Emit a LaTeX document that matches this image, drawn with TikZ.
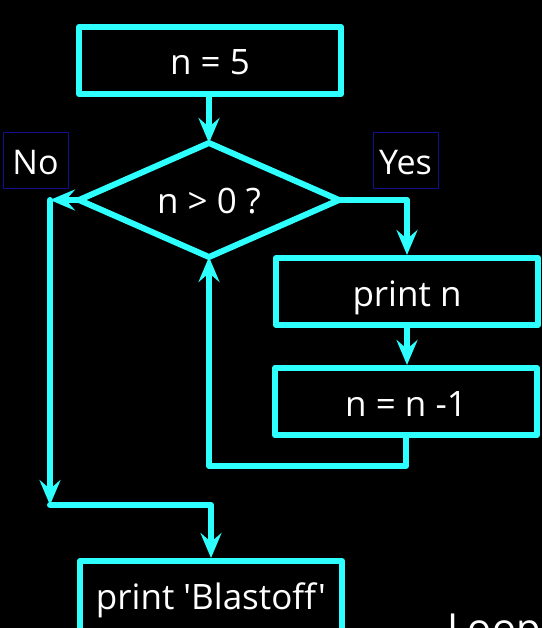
\documentclass[tikz,border=0pt]{standalone}
\usepackage{fontspec}
\newfontfamily\flowfont{Open Sans}
\usetikzlibrary{arrows.meta,shapes.geometric}
\definecolor{flowcyan}{RGB}{46,255,255}
\definecolor{labnavy}{RGB}{16,16,140}
\begin{document}
\begin{tikzpicture}[x=1pt,y=-1pt,
  flow/.style={draw=flowcyan,line width=6pt,line cap=round,line join=round},
  arr/.style={flow,-{Stealth[length=25pt,width=21pt,inset=9pt]}},
  txt/.style={text=white,font=\flowfont\fontsize{35}{42}\selectfont,text height=29pt,text depth=0pt},
  box/.style={rectangle,draw=flowcyan,line width=6pt,line join=round,minimum width=262pt,minimum height=67pt,inner sep=0pt,txt},
  dec/.style={diamond,draw=flowcyan,line width=6pt,line join=round,aspect=2.28,minimum width=260pt,minimum height=114pt,inner sep=0pt,outer sep=0pt,txt,text height=27pt},
  lab/.style={rectangle,draw=labnavy,line width=1pt,minimum width=65pt,minimum height=56pt,inner sep=0pt,text=white,font=\flowfont\fontsize{34}{40}\selectfont,text height=28pt,text depth=0pt}]
\useasboundingbox (0,0) rectangle (542,628);
\fill[black] (0,0) rectangle (542,628);

\node[box] (n5) at (210,60.5) {n = 5};
\node[dec] (d) at (209,200) {n > 0 ?};
\node[lab] (no) at (35.5,161) {No};
\node[lab] (yes) at (405.5,161) {Yes};
\node[box] (printn) at (407,291.5) {print n};
\node[box] (dec) at (406,401.5) {n = n -1};
\node[box,draw=none,outer sep=0pt] (blast) at (211,594.5) {print 'Blastoff'};
\draw[flow] ([yshift=-30pt]blast.south west) -- (blast.north west) -- (blast.north east) -- ([yshift=-30pt]blast.south east);

\coordinate (nocorner) at (50,200);
\coordinate (nodown) at (50,505);

\draw[arr] (d.north |- n5.south) -- (d.north);
\draw[arr] (d.west) -- (nocorner);
\draw[arr] (nocorner) -- (nodown);
\draw[arr] (nodown) -| ([yshift=3pt]blast.north);
\draw[arr] (d.east) -| (printn.north);
\draw[arr] (printn.south) -- (printn.south |- dec.north);
\draw[arr] (dec.south) -- ++(0,28) -| (d.south);

\begin{scope}
\clip (0,0) rectangle (542,628);
\node[anchor=base west,inner sep=0pt,text=white,font=\flowfont\fontsize{40}{48}\selectfont] (title) at (447,642) {Loops};
\end{scope}
\end{tikzpicture}
\end{document}
